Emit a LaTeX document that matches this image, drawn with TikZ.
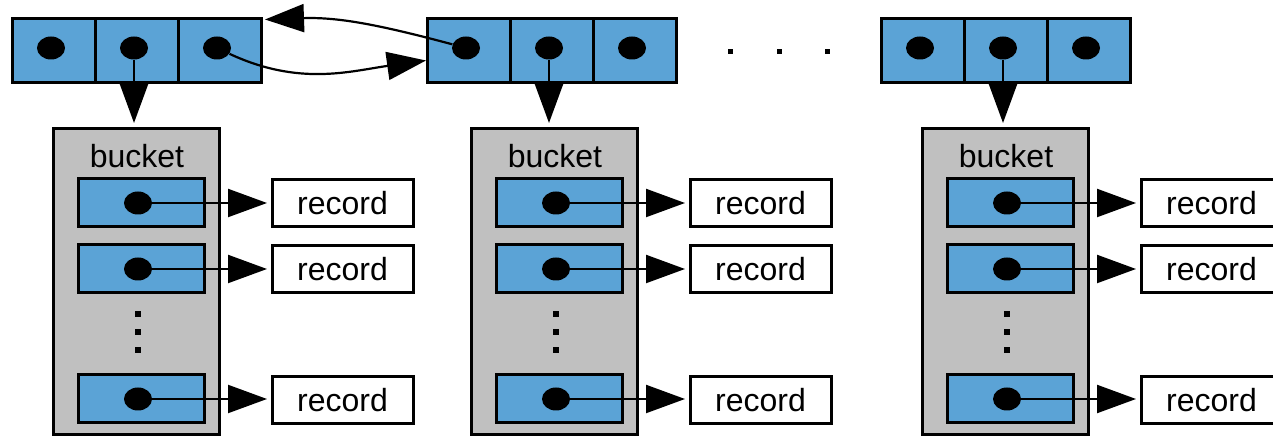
\documentclass[tikz,border=0pt]{standalone}
\usepackage{fontspec}
\setmainfont{Liberation Sans}
\usetikzlibrary{arrows.meta,shapes.geometric,calc}
\definecolor{cellblue}{HTML}{5BA3D6}
\definecolor{bucketgray}{HTML}{C0C0C0}
\begin{document}
\begin{tikzpicture}[x=0.5pt,y=-0.5pt,
  cell/.style={draw,fill=cellblue,line width=1.5pt,minimum width=41.5pt,minimum height=32pt,inner sep=0pt,outer sep=0pt},
  slot/.style={draw,fill=cellblue,line width=1.5pt,minimum width=63pt,minimum height=24pt,inner sep=0pt,outer sep=0pt},
  bucketbox/.style={draw,fill=bucketgray,line width=1.5pt,minimum width=83pt,minimum height=153pt,inner sep=0pt,outer sep=0pt},
  recordbox/.style={draw,fill=white,line width=1.5pt,minimum width=70.5pt,minimum height=23.5pt,inner sep=0pt,outer sep=0pt,font=\fontsize{16}{18}\selectfont},
  ptr/.style={ellipse,fill=black,minimum width=14pt,minimum height=11.5pt,inner sep=0pt},
  sq/.style={fill=black,minimum size=3pt,inner sep=0pt},
  arr/.style={line width=1.1pt,-{Triangle[length=19.5pt,width=14pt]}},
  lbl/.style={font=\fontsize{16}{18}\selectfont,inner sep=0pt}]
\useasboundingbox (0,0) rectangle (1273,437);

\foreach \g/\ox/\bx in {1/0/0, 2/415/418, 3/869/869}{
  % array of three pointer cells
  \node[cell] (c\g1) at (53.5+\ox,50.5) {};
  \node[cell] (c\g2) at (136.5+\ox,50.5) {};
  \node[cell] (c\g3) at (219.5+\ox,50.5) {};
  % bucket with its slots
  \node[bucketbox] (b\g) at (136+\bx,282) {};
  \node[lbl] (bl\g) at (137+\bx,156) {bucket};
  \node[slot] (s\g1) at (141+\bx,203) {};
  \node[slot] (s\g2) at (141+\bx,269) {};
  \node[slot] (s\g3) at (141+\bx,399) {};
  \node[sq] (v\g1) at (138+\bx,314) {};
  \node[sq] (v\g2) at (138+\bx,332) {};
  \node[sq] (v\g3) at (138+\bx,350) {};
  % records
  \node[recordbox] (r\g1) at (342.5+\bx,203) {record};
  \node[recordbox] (r\g2) at (342.5+\bx,269) {record};
  \node[recordbox] (r\g3) at (342.5+\bx,400) {record};
  % pointers
  \node[ptr] (d\g1) at (51+\ox,48) {};
  \node[ptr] (d\g2) at (134+\ox,48) {};
  \node[ptr] (d\g3) at (217+\ox,48) {};
  \node[ptr] (e\g1) at (138+\bx,203) {};
  \node[ptr] (e\g2) at (138+\bx,269) {};
  \node[ptr] (e\g3) at (138+\bx,399) {};
  % connectors
  \draw[arr,shorten >=3pt] (d\g2) -- (d\g2 |- b\g.north);
  \draw[arr,shorten >=2.5pt] (e\g1) -- (e\g1 -| r\g1.west);
  \draw[arr,shorten >=2.5pt] (e\g2) -- (e\g2 -| r\g2.west);
  \draw[arr,shorten >=2.5pt] (e\g3) -- (e\g3 -| r\g3.west);
}

% ellipsis between the second and third arrays
\node[sq,minimum size=2.5pt] (h1) at (730,52) {};
\node[sq,minimum size=2.5pt] (h2) at (779,52) {};
\node[sq,minimum size=2.5pt] (h3) at (827,52) {};

% links between the first two arrays
\coordinate (tipA) at ($(c13.north east)+(4,1)$);
\coordinate (tipB) at ($(c21.west)+(-1,10)$);
\draw[arr] (d21) to[out=165,in=2] (tipA);
\draw[arr] (d13) to[out=-25,in=188] (tipB);
\end{tikzpicture}
\end{document}
